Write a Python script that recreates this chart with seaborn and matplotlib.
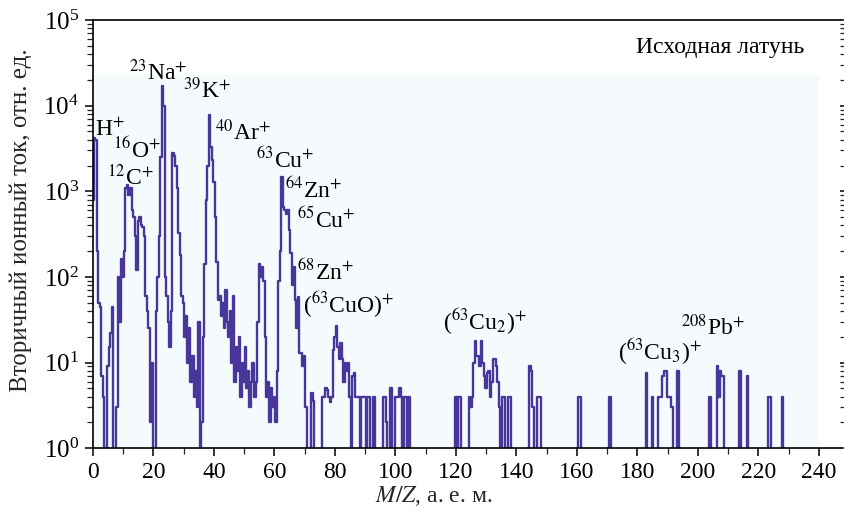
import matplotlib
matplotlib.use("Agg")
import numpy as np
import pandas as pd
import matplotlib.pyplot as plt
import seaborn as sns
from matplotlib.ticker import MultipleLocator, LogLocator

# масса (а.е.м., шаг 0.5) и интенсивность; остальное - нулевой фон
mz_low = [0.0, 0.5, 1.0, 1.5, 2.0, 2.5, 3.0, 3.5,
          5.0, 5.5, 6.0, 6.5, 8.0, 8.5, 9.0, 9.5, 10.0, 10.5,
          11.0, 11.5, 12.0, 12.5, 13.0, 13.5, 14.0, 14.5, 15.0, 15.5,
          16.0, 16.5, 17.0, 17.5, 18.0, 18.5, 19.0, 19.5,
          21.0, 21.5, 22.0, 22.5, 23.0, 23.5, 24.0, 24.5, 25.0, 25.5,
          26.0, 26.5, 27.0, 27.5, 28.0, 28.5, 29.0, 29.5, 30.0, 30.5,
          31.0, 31.5, 32.0, 32.5, 33.0, 33.5, 34.0, 34.5, 35.0,
          36.0, 36.5, 37.0, 37.5, 38.0, 38.5, 39.0, 39.5, 40.0, 40.5,
          41.0, 41.5, 42.0, 42.5, 43.0, 43.5, 44.0, 44.5, 45.0, 45.5,
          46.0, 46.5, 47.0, 47.5, 48.0, 48.5, 49.0, 49.5, 50.0, 50.5,
          51.0, 51.5, 52.0, 52.5, 53.0, 53.5, 54.0, 54.5, 55.0, 55.5,
          56.0, 56.5, 57.0, 57.5, 58.0, 58.5, 59.0, 59.5, 60.0, 60.5,
          61.0, 61.5, 62.0, 62.5, 63.0, 63.5, 64.0, 64.5, 65.0, 65.5,
          66.0, 66.5, 67.0, 67.5, 68.0, 68.5, 69.0, 69.5, 70.0, 70.5]
counts_low = [800, 4200, 4000, 200, 50, 45, 7, 4,
              9, 15, 22, 44, 3, 100, 30, 160, 100, 200,
              1100, 1200, 900, 1100, 600, 500, 300, 120, 450, 500,
              400, 380, 300, 60, 40, 25, 2, 10,
              40, 100, 300, 2500, 17000, 10000, 100, 60, 30, 15,
              40, 2800, 2600, 2000, 1100, 330, 180, 60, 50, 20,
              35, 10, 25, 6, 12, 4, 8, 3, 30,
              2, 20, 140, 800, 2000, 7700, 3300, 2300, 1300, 500,
              150, 54, 60, 35, 50, 25, 70, 30, 20, 40,
              10, 60, 6, 15, 8, 20, 4, 10, 6, 15,
              5, 8, 3, 6, 10, 4, 6, 30, 140, 100,
              130, 90, 20, 4, 6, 2, 5, 3, 4, 2,
              8, 90, 200, 1450, 650, 600, 550, 600, 350, 190,
              80, 130, 54, 25, 58, 13, 13, 9, 12, 3]

mz_mid = [72.5, 73.0, 76.0, 76.5, 77.0, 77.5, 78.0, 78.5, 79.0, 79.5,
          80.0, 80.5, 81.0, 81.5, 82.0, 82.5, 83.0, 83.5, 84.0, 84.5,
          85.0, 86.0, 86.5, 87.0, 87.5, 88.0, 89.0, 89.5, 90.0, 91.0,
          91.5, 93.0, 96.0, 96.5, 97.0, 98.5, 100.0, 100.5, 101.0, 101.5,
          102.0, 103.0, 103.5, 104.5]
counts_mid = [4.4, 3.6, 4, 4, 5, 4.8, 4, 3.5, 4, 14,
              20, 27, 15, 11, 17, 11, 6, 10, 8, 10,
              4, 7, 7.5, 4, 4, 4, 4, 4, 4, 4,
              4, 4, 4, 4, 2, 5, 4, 4, 4, 5,
              4, 4, 4, 4]

mz_high = [120.0, 121.0, 121.5, 124.5, 125.0, 125.5, 126.0, 126.5, 127.0, 127.5,
           128.0, 128.5, 129.0, 129.5, 130.0, 130.5, 131.0, 131.5, 132.0, 132.5,
           133.0, 133.5, 134.0, 134.5, 135.5, 136.0, 137.5, 138.0, 144.5, 145.0,
           145.5, 147.0, 147.5, 148.0, 160.5, 161.0, 171.0, 183.0, 185.0, 187.0,
           187.5, 188.0, 188.5, 189.0, 189.5, 190.0, 190.5, 191.0, 191.5, 193.5,
           204.0, 206.5, 207.0, 207.5, 208.0, 208.5, 214.0, 216.5, 223.5, 224.0,
           228.0]
counts_high = [4, 4, 4, 4, 3, 4, 10, 18, 12, 12,
               9, 18, 10, 7, 5, 7.5, 8, 4, 6, 11,
               11, 9, 6, 3, 4, 4, 4, 4, 9, 8,
               3, 4, 4, 4, 4, 4, 4, 7.5, 4, 4,
               4, 4, 7, 8, 8, 4, 4, 4, 3, 8,
               4, 9, 4, 8, 7, 7, 8, 7, 4, 4,
               4]

labels = [r'H$^{+}$', r'$^{16}$O$^{+}$', r'$^{12}$C$^{+}$', r'$^{23}$Na$^{+}$',
          r'$^{39}$K$^{+}$', r'$^{40}$Ar$^{+}$', r'$^{63}$Cu$^{+}$', r'$^{64}$Zn$^{+}$',
          r'$^{65}$Cu$^{+}$', r'$^{68}$Zn$^{+}$', r'($^{63}$CuO)$^{+}$',
          r'($^{63}$Cu$_{2}$)$^{+}$', r'($^{63}$Cu$_{3}$)$^{+}$', r'$^{208}$Pb$^{+}$']
label_x = [0.8, 6.5, 4.5, 12.0, 29.7, 40.2, 54.0, 63.4, 67.4, 67.4, 69.4, 115.8, 173.7, 194.3]
label_y = [5200, 3000, 1470, 24500, 15000, 4900, 2300, 1030, 460, 114, 47, 30, 13.3, 26]

sns.set_theme(style="ticks")
plt.rcParams['font.family'] = ['Liberation Serif', 'DejaVu Serif']
plt.rcParams['mathtext.fontset'] = 'stix'

grid = np.arange(0, 232.5, 0.5)
spec = pd.Series(0.3, index=grid)
spec.loc[mz_low + mz_mid + mz_high] = counts_low + counts_mid + counts_high
df = pd.DataFrame({'mz': grid, 'counts': spec.values})

fig = plt.figure(figsize=(8.45, 5.14), dpi=100)
ax = fig.add_axes([0.110, 0.128, 0.884, 0.833])

ax.fill_between([0, 240], 1, 2.3e4, color='#f5fbfd', lw=0, zorder=0)
sns.lineplot(data=df, x='mz', y='counts', ax=ax, drawstyle='steps-mid',
             color='#48369a', lw=1.7, estimator=None, zorder=2)

ax.set_yscale('log')
ax.set_ylim(1, 1e5)
ax.set_xlim(0, 247)
ax.set_xticks(range(0, 241, 20))
ax.xaxis.set_minor_locator(MultipleLocator(10))
ax.yaxis.set_major_locator(LogLocator(base=10, numticks=10))
ax.yaxis.set_minor_locator(LogLocator(base=10, subs=np.arange(2, 10), numticks=20))

for s in ['left', 'bottom', 'top']:
    ax.spines[s].set_color('black')
    ax.spines[s].set_linewidth(1.2)
ax.spines['right'].set_visible(False)
ax.tick_params(axis='both', which='major', direction='out', length=6, width=1.1,
               labelsize=17, colors='black', pad=4)
ax.tick_params(axis='y', which='major', labelsize=18)
ax.tick_params(axis='both', which='minor', direction='out', length=4, width=0.9)
ax.tick_params(axis='y', which='both', left=True, right=True)
ax.tick_params(axis='x', which='both', bottom=True, top=False)

for txt, lx, ly in zip(labels, label_x, label_y):
    ax.text(lx, ly, txt, fontsize=17, ha='left', va='center', color='black')
ax.text(0.839, 0.937, 'Исходная латунь', transform=ax.transAxes,
        fontsize=17, ha='center', va='center', color='black')

ax.set_xlabel(r'$M/Z$, а. е. м.', fontsize=17)
ax.set_ylabel('Вторичный ионный ток, отн. ед.', fontsize=18)
ax.xaxis.set_label_coords(0.456, -0.084)
ax.yaxis.set_label_coords(-0.082, 0.533)
ax.grid(False)

fig.savefig('out.png', dpi=100)
